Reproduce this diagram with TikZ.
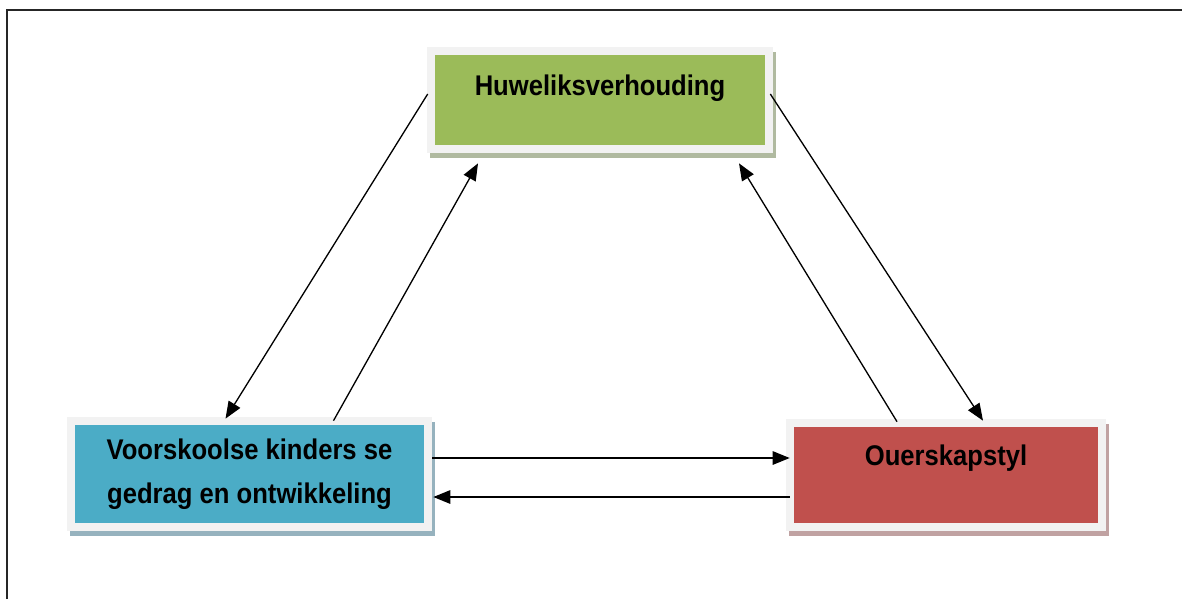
\documentclass[tikz,border=0pt]{standalone}
\usepackage{fontspec}
\setmainfont[FakeStretch=0.9]{Liberation Sans}
\usetikzlibrary{arrows.meta,calc,shadows}
\definecolor{raamgrys}{HTML}{F2F2F2}
\definecolor{huwelikgroen}{HTML}{9BBB59}
\definecolor{kinderblou}{HTML}{4BACC6}
\definecolor{ouersrooi}{HTML}{C0504D}
\definecolor{skaduGroen}{RGB}{176,186,160}
\definecolor{skaduBlou}{RGB}{150,178,190}
\definecolor{skaduRooi}{RGB}{192,162,162}
\begin{document}
\begin{tikzpicture}[
		x=0.02cm, y=-0.02cm,
		every node/.style={inner sep=0, font=\fontsize{16.2}{25}\selectfont\bfseries},
		vakkie/.style={rectangle, fill=raamgrys,
			path picture={\fill[#1] ([shift={(0.16cm,-0.16cm)}]path picture bounding box.north west) rectangle ([shift={(-0.16cm,0.16cm)}]path picture bounding box.south east);}},
		skadu/.style={drop shadow={shadow xshift=0.06cm, shadow yshift=-0.1cm, fill=#1, opacity=1}},
		pyl/.style={-{Triangle[length=0.34cm,width=0.27cm]}, line width=0.75pt},
	]
	\useasboundingbox (0,0) rectangle (1182,599);
	\draw[line width=0.04cm, black!85] (7,599) -- (7,10) -- (1182,10);
	\node[vakkie=huwelikgroen, skadu=skaduGroen, minimum width=6.92cm, minimum height=2.12cm,
		text height=0.96cm, text depth=1.16cm] (huwelik) at (600,100) {Huweliksverhouding};
	\node[vakkie=kinderblou, skadu=skaduBlou, minimum width=7.3cm, minimum height=2.28cm,
		align=center] (kinders) at (249.5,474) {Voorskoolse kinders se\\gedrag en ontwikkeling};
	\node[vakkie=ouersrooi, skadu=skaduRooi, minimum width=6.4cm, minimum height=2.24cm,
		text height=0.92cm, text depth=1.32cm] (ouers) at (946,475) {Ouerskapstyl};
	\draw[pyl] ($(huwelik.west)+(1,-6)$) -- ($(kinders.north)+(-24,2)$);
	\draw[pyl] ($(kinders.north)+(84,4)$) -- ($(huwelik.south)+(-122,10)$);
	\draw[pyl] ($(ouers.north)+(-49,3)$) -- ($(huwelik.south)+(139,10)$);
	\draw[pyl] ($(huwelik.east)+(-3,-6)$) -- ($(ouers.north)+(37,2)$);
	\draw[pyl] ($(kinders.east)+(0,-16)$) -- ($(ouers.west)+(4,-17)$);
	\draw[pyl] ($(ouers.west)+(4,22)$) -- ($(kinders.east)+(1,23)$);
\end{tikzpicture}
\end{document}
